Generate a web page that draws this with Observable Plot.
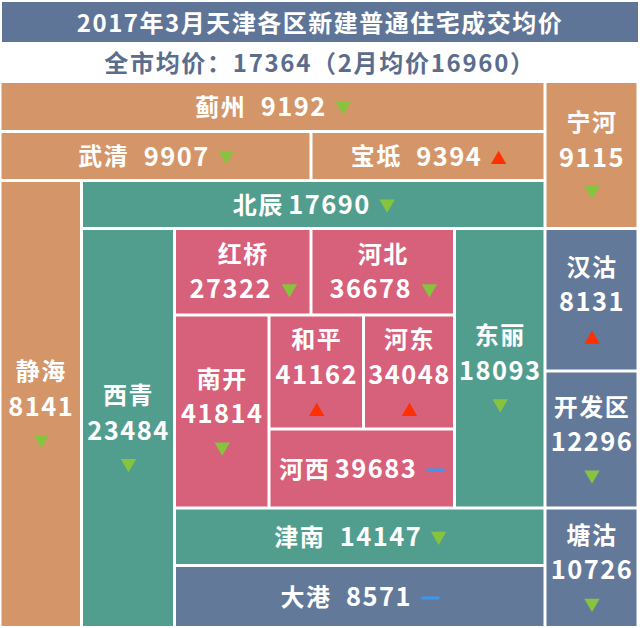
<!DOCTYPE html>
<html><head><meta charset="utf-8">
<script src="https://cdn.jsdelivr.net/npm/d3@7"></script>
<script src="https://cdn.jsdelivr.net/npm/@observablehq/plot@0.6"></script>
<style>
body{margin:0;background:#fff;}
#wrap{width:640px;height:628px;position:relative;overflow:hidden;font-family:"Noto Sans CJK SC","Noto Sans",sans-serif;}
#title{position:absolute;left:2px;top:2px;width:636px;height:40px;background:#5f7597;color:#fff;font-weight:bold;font-size:24px;line-height:40px;text-align:center;letter-spacing:1.5px;}
#subtitle{position:absolute;left:0;top:42px;width:640px;height:39px;color:#5a6d8c;font-weight:bold;font-size:24px;line-height:39px;text-align:center;letter-spacing:1.7px;}
#chart{position:absolute;left:0;top:81px;}
#chart svg{letter-spacing:1.5px;}
</style></head>
<body>
<div id="wrap"><div id="title"></div><div id="subtitle"></div><div id="chart"></div></div>
<script>
// ---- data ----
const title = "2017年3月天津各区新建普通住宅成交均价";
const subtitle = "全市均价：17364（2月均价16960）";
const districts = ["蓟州","宁河","武清","宝坻","静海","北辰","西青","红桥","河北","南开","和平","河东","河西","东丽","汉沽","开发区","津南","大港","塘沽"];
const prices = [9192,9115,9907,9394,8141,17690,23484,27322,36678,41814,41162,34048,39683,18093,8131,12296,14147,8571,10726];
const trends = ["down","down","down","up","down","down","down","down","down","down","up","up","flat","down","up","down","down","flat","down"];
const groups = ["outer","outer","outer","outer","outer","ring","ring","core","core","core","core","core","core","ring","binhai","binhai","ring","binhai","binhai"];
const groupNames = ["outer","ring","core","binhai"];

// ---- layout (grid edges and cell spans) ----
const colEdges = [0, 81.5, 174.5, 269, 311, 363.5, 454.5, 545, 638];
const rowEdges = [81.5, 131.5, 180.5, 228.5, 315, 371, 429, 508, 565.5, 627.5];
const layout = [
  [0,7,0,1,"line"],   // 蓟州
  [7,8,0,3,"stack3"], // 宁河
  [0,4,1,2,"line"],   // 武清
  [4,7,1,2,"line"],   // 宝坻
  [0,1,2,9,"stack3"], // 静海
  [1,7,2,3,"tight"],  // 北辰
  [1,2,3,9,"stack3"], // 西青
  [2,4,3,4,"stack2"], // 红桥
  [4,6,3,4,"stack2"], // 河北
  [2,3,4,7,"stack3"], // 南开
  [3,5,4,6,"stack3"], // 和平
  [5,6,4,6,"stack3"], // 河东
  [3,6,6,7,"tight"],  // 河西
  [6,7,3,7,"stack3"], // 东丽
  [7,8,3,5,"stack3"], // 汉沽
  [7,8,5,7,"stack3"], // 开发区
  [2,7,7,8,"line"],   // 津南
  [2,7,8,9,"line"],   // 大港
  [7,8,7,9,"stack3"]  // 塘沽
];

// ---- styles ----
const FONT = '"Noto Sans CJK SC","Noto Sans",sans-serif';
const FS = 24, FSN = 25.5, LS = 1.5;
const palette = ["#d49669","#529e8e","#d7607a","#637999"];

document.getElementById("title").textContent = title;
document.getElementById("subtitle").textContent = subtitle;

const mSvg = d3.select("body").append("svg").attr("width",1).attr("height",1)
  .style("position","absolute").style("left","-100px");
function textWidth(str, size){
  const t = mSvg.append("text").attr("font-family",FONT).attr("font-weight","bold")
    .attr("font-size",size).style("letter-spacing",LS+"px").text(str);
  const w = t.node().getComputedTextLength(); t.remove(); return w - LS;
}

const cells = districts.map((d,i)=>{
  const [c1,c2,r1,r2,style] = layout[i];
  return {name:d, price:prices[i], trend:trends[i], group:groups[i], style,
    x1:colEdges[c1], x2:colEdges[c2], y1:rowEdges[r1], y2:rowEdges[r2]};
});

const names = [], nums = [], markers = [];
for (const c of cells){
  const cx=(c.x1+c.x2)/2, cy=(c.y1+c.y2)/2;
  const p = String(c.price);
  const mw = c.trend==="flat" ? 18 : 14;
  if (c.style==="line" || c.style==="tight"){
    const nw=textWidth(c.name, FS), pw=textWidth(p, FSN);
    const g1 = c.style==="line" ? 16 : 6, g2 = 10;
    const total = nw+g1+pw+g2+mw;
    let s = cx - total/2;
    names.push({x:s+nw/2, y:cy+1, t:c.name});
    s += nw+g1;
    nums.push({x:s+pw/2, y:cy+1, t:p});
    s += pw+g2;
    markers.push({x:s+mw/2, y:cy+1, trend:c.trend});
  } else if (c.style==="stack2"){
    names.push({x:cx, y:cy-16.5, t:c.name});
    const pw=textWidth(p, FSN), g2=11;
    const total=pw+g2+mw;
    let s = cx - total/2;
    nums.push({x:s+pw/2, y:cy+17.5, t:p});
    markers.push({x:s+pw+g2+mw/2, y:cy+18.5, trend:c.trend});
  } else {
    names.push({x:cx, y:cy-32, t:c.name});
    nums.push({x:cx, y:cy+3, t:p});
    markers.push({x:cx, y:cy+37, trend:c.trend});
  }
}

const dash = {draw(ctx){ ctx.moveTo(-9,-1.5); ctx.lineTo(9,-1.5); ctx.lineTo(9,1.5); ctx.lineTo(-9,1.5); ctx.closePath(); }};

const plot = Plot.plot({
  width:640, height:547, margin:0,
  x:{domain:[0,640], range:[0,640], axis:null},
  y:{domain:[81,628], range:[0,547], axis:null},
  color:{domain:groupNames, range:palette},
  style:{fontFamily:FONT, background:"transparent"},
  marks:[
    Plot.rect(cells,{x1:"x1",x2:"x2",y1:"y1",y2:"y2",fill:"group",inset:1.5}),
    Plot.text(names,{x:"x",y:"y",text:"t",fill:"white",fontSize:FS,fontWeight:"bold",textAnchor:"middle",fontFamily:FONT}),
    Plot.text(nums,{x:"x",y:"y",text:"t",fill:"white",fontSize:FSN,fontWeight:"bold",textAnchor:"middle",fontFamily:FONT}),
    Plot.dot(markers.filter(m=>m.trend==="up"),{x:"x",y:"y",symbol:"triangle",r:5.7,fill:"#ff2f00",stroke:null,dy:2}),
    Plot.dot(markers.filter(m=>m.trend==="down"),{x:"x",y:"y",symbol:"triangle",r:5.7,fill:"#86c440",stroke:null,rotate:180,dy:-2}),
    Plot.dot(markers.filter(m=>m.trend==="flat"),{x:"x",y:"y",symbol:dash,r:5,fill:"#3a98ee",stroke:null})
  ]
});
document.getElementById("chart").appendChild(plot);
</script>
</body></html>
